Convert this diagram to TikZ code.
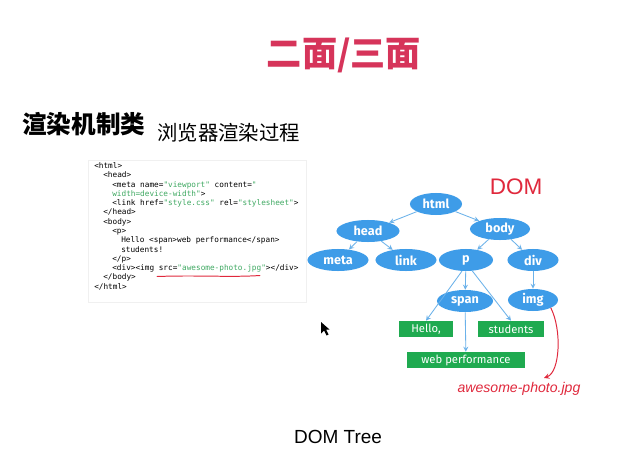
\documentclass[tikz,border=0pt]{standalone}
\usepackage{fontspec}
\setmainfont{Noto Sans}
\setsansfont{Liberation Sans}
\setmonofont{DejaVu Sans Mono}
\newfontfamily\cjk{Noto Sans CJK SC}
\newfontfamily\tagfont{Fira Sans}
\usepackage{tikz}
\usetikzlibrary{arrows,calc,shapes.geometric}
\definecolor{titlered}{HTML}{D6345A}
\definecolor{domblue}{HTML}{3E9CE8}
\definecolor{edgeblue}{HTML}{6BB2EA}
\definecolor{leafgreen}{HTML}{1FAA50}
\definecolor{codegreen}{HTML}{3FA962}
\definecolor{penred}{HTML}{E0283C}

\begin{document}
\begin{tikzpicture}[x=0.025cm,y=-0.025cm,>=stealth,
  domnode/.style={ellipse,fill=domblue,text=white,inner sep=0pt,
    minimum height=0.55cm,font=\tagfont\bfseries\fontsize{9}{10}\selectfont},
  leafbox/.style={rectangle,fill=leafgreen,text=white,inner sep=0pt,
    minimum height=0.4cm,font=\tagfont\fontsize{8}{9}\selectfont},
  edge/.style={->,draw=edgeblue,line width=0.6pt},
  codeline/.style={anchor=base west,inner sep=0pt,
    font=\ttfamily\fontsize{5.5}{6}\selectfont},
  pen/.style={draw=penred,line width=0.7pt,line cap=round}]
\useasboundingbox[fill=white] (0,0) rectangle (639,460);

% headings
\node[text=titlered,font=\cjk\bfseries\fontsize{25}{28}\selectfont] (title) at (344,55) {二面/三面};
\node[anchor=west,inner sep=0pt,font=\cjk\bfseries\fontsize{17.5}{20}\selectfont] (topic) at (22,124) {渲染机制类};
\node[anchor=west,inner sep=0pt,font=\cjk\fontsize{14.5}{17}\selectfont] (subtopic) at (157,133) {浏览器渲染过程};

% html source
\draw[gray!12,line width=0.5pt] (88,160) rectangle (306,302);
\node[codeline] (c1) at (94,168.5) {<html>};
\node[codeline] (c2) at (103,177.8) {<head>};
\node[codeline] (c3) at (112,187.1) {<meta name=\textcolor{codegreen}{"viewport"} content=\textcolor{codegreen}{"}};
\node[codeline] (c4) at (112,196.3) {\textcolor{codegreen}{width=device-width"}>};
\node[codeline] (c5) at (112,205.6) {<link href=\textcolor{codegreen}{"style.css"} rel=\textcolor{codegreen}{"stylesheet"}>};
\node[codeline] (c6) at (103,214.9) {</head>};
\node[codeline] (c7) at (103,224.2) {<body>};
\node[codeline] (c8) at (112,233.5) {<p>};
\node[codeline] (c9) at (121,242.7) {Hello <span>web performance</span>};
\node[codeline] (c10) at (121,252.0) {students!};
\node[codeline] (c11) at (112,261.3) {</p>};
\node[codeline] (c12) at (112,270.6) {<div><img src=\textcolor{codegreen}{"awesome-photo.jpg"}></div>};
\node[codeline] (c13) at (103,279.8) {</body>};
\node[codeline] (c14) at (94,289.1) {</html>};
\draw[pen] (157,276.5) .. controls (200,275) and (230,277.5) .. (260,275.5);

% mouse pointer
\fill (321,322) -- (321,333.5) -- (324,330.5) -- (326.5,335.5) -- (328.5,334.5) -- (326,329.5) -- (329.5,329.5) -- cycle;

% dom tree
\node[text=penred,font=\sffamily\fontsize{16}{18}\selectfont] (domlabel) at (516,187) {DOM};
\node[domnode,minimum width=1.3cm] (html) at (436,204) {html};
\node[domnode,minimum width=1.575cm] (head) at (368,231) {head};
\node[domnode,minimum width=1.5cm] (body) at (500,229) {body};
\node[domnode,minimum width=1.525cm] (meta) at (338,260) {meta};
\node[domnode,minimum width=1.525cm] (link) at (406,260) {link};
\node[domnode,minimum width=1.35cm] (p) at (466,260) {p};
\node[domnode,minimum width=1.275cm] (div) at (533,260) {div};
\node[domnode,minimum width=1.4cm] (span) at (465,301) {span};
\node[domnode,minimum width=1.25cm] (img) at (533,300) {img};
\node[leafbox,minimum width=1.325cm] (hello) at (426,329) {Hello,};
\node[leafbox,minimum width=1.625cm] (students) at (511,329) {students};
\node[leafbox,minimum width=2.95cm] (webperf) at (466,360) {web performance};

\draw[edge] (html) -- (head);
\draw[edge] (html) -- (body);
\draw[edge] (head) -- (meta);
\draw[edge] (head) -- (link);
\draw[edge] (body) -- (p);
\draw[edge] (body) -- (div);
\draw[edge] (p) -- (span);
\draw[edge] (div) -- (img);
\draw[edge] (p.250) -- (hello.north);
\draw[edge] (p.300) -- (students.north);
\draw[edge] (span) -- (webperf);

% hand-drawn note
\node[text=penred,font=\sffamily\itshape\fontsize{10}{12}\selectfont] (photo) at (519,389) {awesome-photo.jpg};
\coordinate (tip) at (544,378);
\draw[pen,->] (img.south east) .. controls (562,330) and (560,372) .. (tip);

\node[font=\sffamily\fontsize{13.5}{16}\selectfont] (caption) at (338,437) {DOM Tree};
\end{tikzpicture}
\end{document}
